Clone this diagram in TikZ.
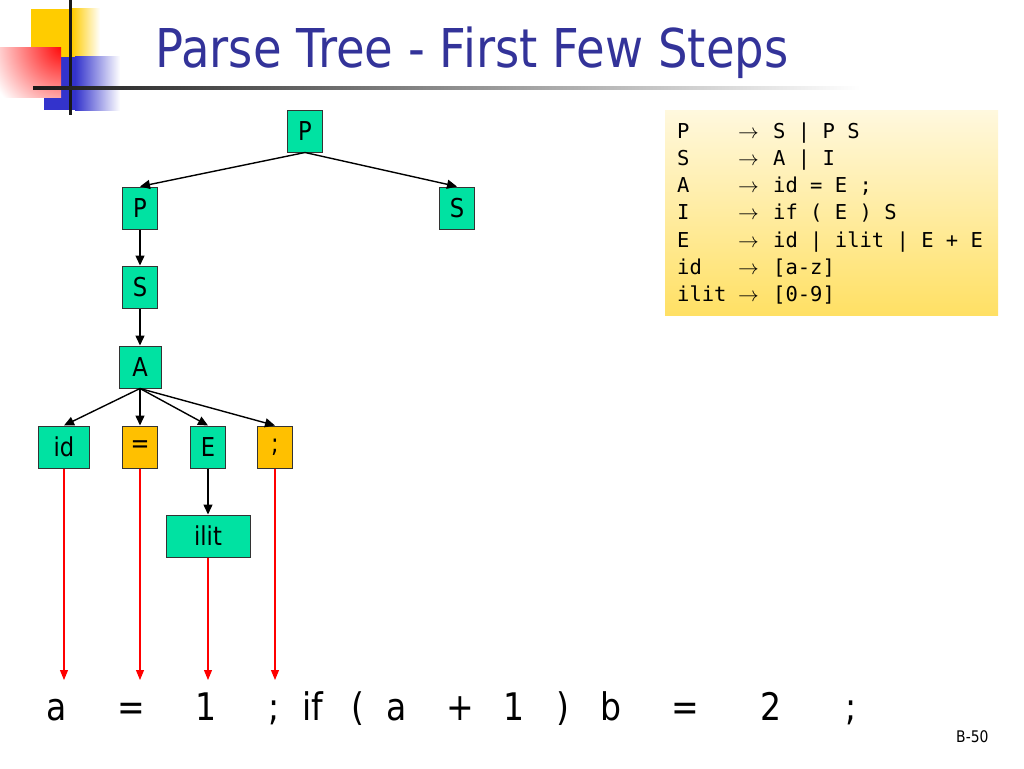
\documentclass[tikz,border=0pt]{standalone}
\usepackage{fontspec}
\setmainfont{DejaVu Sans}[FakeStretch=0.87]
\newfontfamily\monofont{DejaVu Sans Mono}
\usetikzlibrary{arrows.meta}
\definecolor{titleblue}{RGB}{51,51,153}
\definecolor{nodegreen}{RGB}{0,226,162}
\definecolor{nodeorange}{RGB}{255,192,0}
\definecolor{logoyellow}{RGB}{255,204,0}
\definecolor{logoblue}{RGB}{51,51,204}
\definecolor{gramtop}{RGB}{255,248,222}
\definecolor{grambot}{RGB}{255,224,100}
\tikzset{
 tnode/.style={draw=black!80, line width=1pt, fill=nodegreen, minimum height=42, minimum width=35, inner sep=0pt, font=\fontsize{26}{26}\selectfont},
 tnodeo/.style={tnode, fill=nodeorange},
 tarrow/.style={-{Triangle[length=10pt,width=9pt]}, line width=1.4pt, black},
 rarrow/.style={-{Triangle[length=10pt,width=8pt]}, line width=1.1pt, red},
 gram/.style={anchor=base west, inner sep=0pt, font=\monofont\fontsize{20.5}{24}\selectfont},
 tok/.style={anchor=base, inner sep=0pt, font=\fontsize{38}{38}\selectfont},
}
\begin{document}
\begin{tikzpicture}[x=1pt,y=-1pt]
\useasboundingbox (0,0) rectangle (1024,768);
% logo
\fill[logoyellow] (31,9) rectangle (72,57);
\shade[left color=logoyellow, right color=white] (72,9) rectangle (100,57);
\fill[logoblue] (44,57) rectangle (75,110);
\shade[left color=logoblue, right color=white] (75,57) rectangle (120,110);
\begin{scope}
\clip (0,48) rectangle (61,97);
\shade[inner color=red, outer color=white] (64,45) circle (80);
\end{scope}
\fill[black!90] (69.2,0) rectangle (72.2,115);
\shade[left color=black!90, right color=white] (33,86.5) rectangle (860,89.5);
% title
\node[anchor=base west, inner sep=0pt, text=titleblue, font=\fontsize{53.5}{53.5}\selectfont] (title) at (155,67) {Parse Tree - First Few Steps};
% grammar box
\node[anchor=north west, inner sep=0pt, minimum width=333, minimum height=205, top color=gramtop, bottom color=grambot] (gbox) at (665,110) {};
\node[gram] (gl1) at (677,138) {P};
\node[gram] (ga1) at (738,138) {$\rightarrow$};
\node[gram] (gr1) at (773,138) {S | P S};
\node[gram] (gl2) at (677,165.3) {S};
\node[gram] (ga2) at (738,165.3) {$\rightarrow$};
\node[gram] (gr2) at (773,165.3) {A | I};
\node[gram] (gl3) at (677,192.6) {A};
\node[gram] (ga3) at (738,192.6) {$\rightarrow$};
\node[gram] (gr3) at (773,192.6) {id = E ;};
\node[gram] (gl4) at (677,219.9) {I};
\node[gram] (ga4) at (738,219.9) {$\rightarrow$};
\node[gram] (gr4) at (773,219.9) {if ( E ) S};
\node[gram] (gl5) at (677,247.2) {E};
\node[gram] (ga5) at (738,247.2) {$\rightarrow$};
\node[gram] (gr5) at (773,247.2) {id | ilit | E + E};
\node[gram] (gl6) at (677,274.5) {id};
\node[gram] (ga6) at (738,274.5) {$\rightarrow$};
\node[gram] (gr6) at (773,274.5) {[a-z]};
\node[gram] (gl7) at (677,301.8) {ilit};
\node[gram] (ga7) at (738,301.8) {$\rightarrow$};
\node[gram] (gr7) at (773,301.8) {[0-9]};
% tree
\node[tnode] (P1) at (305,131) {P};
\node[tnode] (P2) at (140,208) {P};
\node[tnode] (S1) at (457,208) {S};
\node[tnode] (S2) at (140,287) {S};
\node[tnode, minimum width=42] (A) at (140,367) {A};
\node[tnode, minimum width=51] (id) at (64,447) {id};
\node[tnodeo] (eq) at (140,447) {=};
\node[tnode] (E) at (208,447) {E};
\node[tnodeo] (semi) at (275,447) {;};
\node[tnode, minimum width=84] (ilit) at (208,536) {ilit};
\draw[tarrow] (P1.south) -- (P2.north);
\draw[tarrow] (P1.south) -- (S1.north);
\draw[tarrow] (P2.south) -- (S2.north);
\draw[tarrow] (S2.south) -- (A.north);
\draw[tarrow] (A.south) -- (id.north);
\draw[tarrow] (A.south) -- (eq.north);
\draw[tarrow] (A.south) -- (E.north);
\draw[tarrow] (A.south) -- (semi.north);
\draw[tarrow] (E.south) -- (ilit.north);
% red links
\coordinate (r1) at (64,680);
\coordinate (r2) at (140,680);
\coordinate (r3) at (208,680);
\coordinate (r4) at (275,680);
\draw[rarrow] (id.south) -- (r1);
\draw[rarrow] (eq.south) -- (r2);
\draw[rarrow] (ilit.south) -- (r3);
\draw[rarrow] (semi.south) -- (r4);
% tokens
\node[tok] (t1) at (57,720) {a};
\node[tok] (t2) at (131,720) {=};
\node[tok] (t3) at (206,720) {1};
\node[tok] (t4) at (274,720) {;};
\node[tok] (t5) at (313,720) {if};
\node[tok] (t6) at (358,720) {(};
\node[tok] (t7) at (397,720) {a};
\node[tok] (t8) at (460,720) {+};
\node[tok] (t9) at (514,720) {1};
\node[tok] (t10) at (563,720) {)};
\node[tok] (t11) at (611,720) {b};
\node[tok] (t12) at (685,720) {=};
\node[tok] (t13) at (771,720) {2};
\node[tok] (t14) at (851,720) {;};
\node[anchor=base west, inner sep=0pt, font=\fontsize{16}{16}\selectfont] (pg) at (956,742) {B-50};
\end{tikzpicture}
\end{document}
